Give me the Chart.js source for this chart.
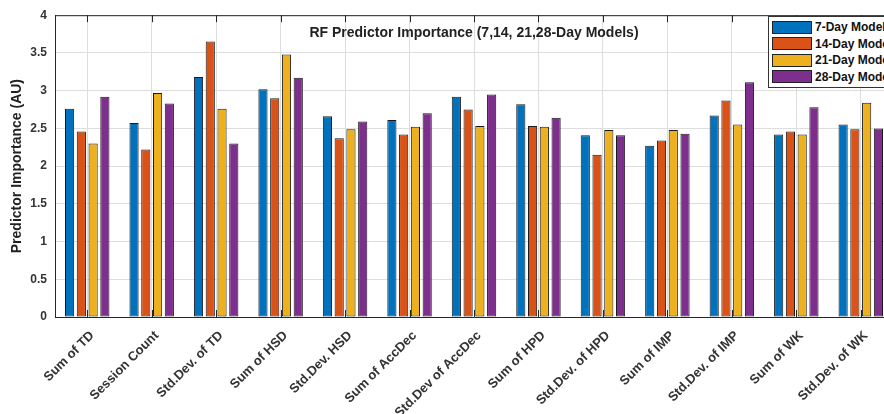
<!DOCTYPE html>
<html>
<head>
<meta charset="utf-8">
<script src="https://cdn.jsdelivr.net/npm/chart.js@4/dist/chart.umd.min.js"></script>
<style>
  html, body { margin:0; padding:0; background:#fff; overflow:hidden; }
  #wrap { position:relative; width:900px; height:414px; }
  #title { position:absolute; top:24px; left:55px; width:838px; text-align:center;
           font:bold 14px "Liberation Sans", Arial, sans-serif; color:#222; }
  #legend { position:absolute; left:768px; top:16px; border:1px solid #333; background:#fff;
            padding:2px 8px 2px 3px; font:bold 12px "Liberation Sans", Arial, sans-serif; color:#111; }
  .row { display:flex; align-items:center; height:16.5px; white-space:nowrap; }
  .sw { width:38px; height:11px; border:1px solid #222; margin-right:3px; }
</style>
</head>
<body>
<div id="wrap">
  <canvas id="chart" width="900" height="414"></canvas>
  <div id="title">RF Predictor Importance (7,14, 21,28-Day Models)</div>
  <div id="legend"></div>
</div>
<script>
// categories (predictors)
var categories = ['Sum of TD','Session Count','Std.Dev. of TD','Sum of HSD','Std.Dev. HSD',
  'Sum of AccDec','Std.Dev of AccDec','Sum of HPD','Std.Dev. of HPD','Sum of IMP',
  'Std.Dev. of IMP','Sum of WK','Std.Dev. of WK'];

// importance values
var day7  = [2.76, 2.57, 3.18, 3.02, 2.66, 2.61, 2.92, 2.82, 2.41, 2.27, 2.67, 2.42, 2.55];
var day14 = [2.46, 2.22, 3.65, 2.90, 2.37, 2.42, 2.75, 2.53, 2.15, 2.34, 2.87, 2.46, 2.49];
var day21 = [2.30, 2.97, 2.76, 3.48, 2.49, 2.52, 2.53, 2.52, 2.48, 2.48, 2.55, 2.42, 2.84];
var day28 = [2.92, 2.83, 2.30, 3.17, 2.59, 2.70, 2.95, 2.64, 2.41, 2.43, 3.11, 2.78, 2.50];

var seriesNames = ['7-Day Model','14-Day Model','21-Day Model','28-Day Model'];
var seriesColors = ['#0072BD','#D95319','#EDB120','#7E2F8E'];
var seriesData = [day7, day14, day21, day28];

var yTicks = [0, 0.5, 1, 1.5, 2, 2.5, 3, 3.5, 4];

var FONT = '"Liberation Sans", Arial, sans-serif';
var AXIS = '#262626';

var datasets = seriesData.map(function(d, i){
  return {
    label: seriesNames[i],
    data: d,
    backgroundColor: seriesColors[i],
    borderColor: '#1a1a1a',
    borderWidth: 1,
    borderSkipped: false,
    categoryPercentage: 0.73,
    barPercentage: 0.78
  };
});

// legend built from the series lists
var legend = document.getElementById('legend');
seriesNames.forEach(function(name, i){
  var row = document.createElement('div');
  row.className = 'row';
  row.innerHTML = '<span class="sw" style="background:' + seriesColors[i] + '"></span>' + name;
  legend.appendChild(row);
});

// matlab style box: top line, inside tick marks
var boxPlugin = {
  id: 'box',
  afterDatasetsDraw: function(chart){
    var ctx = chart.ctx, a = chart.chartArea, x = chart.scales.x;
    ctx.save();
    ctx.strokeStyle = AXIS;
    ctx.lineWidth = 1;
    ctx.beginPath();
    ctx.moveTo(a.left, a.top + 0.5);
    ctx.lineTo(a.right, a.top + 0.5);
    ctx.moveTo(a.right - 0.5, a.top);
    ctx.lineTo(a.right - 0.5, a.bottom);
    categories.forEach(function(c, i){
      var px = Math.round(x.getPixelForValue(i)) + 0.5;
      ctx.moveTo(px, a.top);
      ctx.lineTo(px, a.top + 7);
      ctx.moveTo(px, a.bottom);
      ctx.lineTo(px, a.bottom - 7);
    });
    ctx.stroke();
    ctx.restore();
  }
};

new Chart(document.getElementById('chart'), {
  type: 'bar',
  data: { labels: categories, datasets: datasets },
  plugins: [boxPlugin],
  options: {
    responsive: false,
    animation: false,
    layout: { padding: { top: 15, right: 7, left: 0, bottom: 0 } },
    plugins: {
      legend: { display: false },
      tooltip: { enabled: false }
    },
    scales: {
      x: {
        grid: { offset: false, color: '#dedede', drawTicks: false },
        border: { color: AXIS, width: 1 },
        ticks: {
          minRotation: 45, maxRotation: 45, autoSkip: false, padding: 11, labelOffset: 5,
          color: '#333', font: { family: FONT, size: 13, weight: 'bold' }
        },
        afterFit: function(s){ s.height = 97; }
      },
      y: {
        min: 0, max: 4,
        afterBuildTicks: function(s){ s.ticks = yTicks.map(function(v){ return { value: v }; }); },
        grid: { color: '#dedede', drawTicks: false },
        border: { color: AXIS, width: 1 },
        ticks: {
          padding: 8, color: '#333',
          font: { family: FONT, size: 12, weight: 'bold' },
          callback: function(v){ return String(v); }
        },
        title: {
          display: true, text: 'Predictor Importance (AU)', color: '#222',
          font: { family: FONT, size: 14, weight: 'bold' },
          padding: { top: 9, bottom: 0 }
        },
        afterFit: function(s){ s.width = 55; }
      }
    }
  }
});
</script>
</body>
</html>
